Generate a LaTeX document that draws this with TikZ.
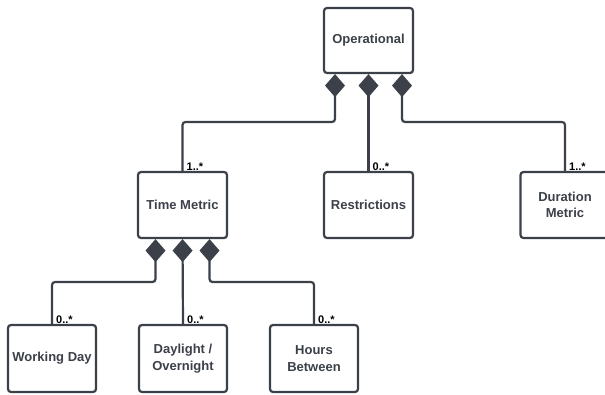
\documentclass[tikz,border=0pt]{standalone}
\usepackage{fontspec}
\setmainfont{Liberation Sans}
\usetikzlibrary{arrows.meta}
\definecolor{ink}{HTML}{3B4049}
\tikzset{
  cls/.style={draw=ink, line width=2.2pt, rounded corners=3pt, fill=white,
    minimum width=89pt, minimum height=66pt, inner sep=2pt, align=center,
    text=ink, font=\bfseries\fontsize{13}{16.5}\selectfont},
  comp/.style={draw=ink, line width=2.2pt, rounded corners=3pt,
    {Diamond[length=23pt,width=20pt,fill=ink,line width=0pt]}-},
  mult/.style={anchor=south west, inner sep=1pt, text=black,
    font=\bfseries\fontsize{11}{13}\selectfont}
}
\begin{document}
\begin{tikzpicture}[x=1pt,y=-1pt]
\useasboundingbox (0,0) rectangle (605,395);
\node[cls, minimum height=65pt] (op) at (368.5,40.5) {Operational};
\node[cls] (tm) at (182.5,205) {Time Metric};
\node[cls] (re) at (368.5,205) {Restrictions};
\node[cls] (dm) at (565,205) {Duration\\Metric};
\node[cls, minimum width=88pt, minimum height=67pt] (wd) at (52,358.5) {Working Day};
\node[cls, minimum width=88pt, minimum height=67pt] (dl) at (183,358.5) {Daylight /\\Overnight};
\node[cls, minimum width=88pt, minimum height=67pt] (hb) at (314,358.5) {Hours\\Between};

\coordinate (oa) at ([xshift=-33.5pt]op.south);
\coordinate (ob) at (op.south);
\coordinate (oc) at ([xshift=33.5pt]op.south);
\draw[comp] (oa) -- (oa |- 0,122) -| (tm.north);
\draw[comp] (ob) -- (re.north);
\draw[comp] (oc) -- (oc |- 0,122) -| (dm.north);

\coordinate (ta) at ([xshift=-27pt]tm.south);
\coordinate (tb) at (tm.south);
\coordinate (tc) at ([xshift=27pt]tm.south);
\draw[comp] (ta) -- (ta |- 0,282) -| (wd.north);
\draw[comp] (tb) -- (dl.north);
\draw[comp] (tc) -- (tc |- 0,282) -| (hb.north);

\node[mult] (m1) at ([xshift=3pt,yshift=-1pt]tm.north) {1..*};
\node[mult] (m2) at ([xshift=3pt,yshift=-1pt]re.north) {0..*};
\node[mult] (m3) at ([xshift=3pt,yshift=-1pt]dm.north) {1..*};
\node[mult] (m4) at ([xshift=3pt,yshift=-1pt]wd.north) {0..*};
\node[mult] (m5) at ([xshift=3pt,yshift=-1pt]dl.north) {0..*};
\node[mult] (m6) at ([xshift=3pt,yshift=-1pt]hb.north) {0..*};
\end{tikzpicture}
\end{document}
